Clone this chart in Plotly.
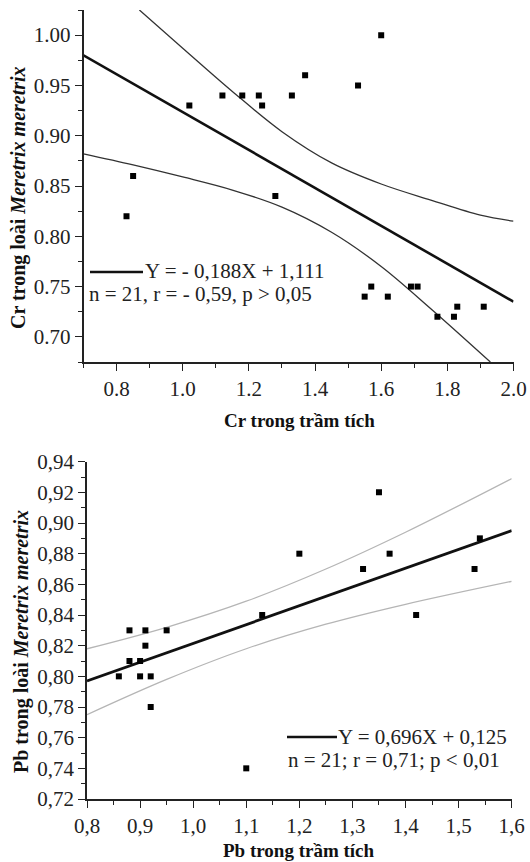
import plotly.graph_objects as go

# ---------------- data: top chart (Cr) ----------------
cr_sed = [0.83, 0.85, 1.02, 1.12, 1.18, 1.23, 1.24, 1.28, 1.33, 1.37, 1.53, 1.60,
          1.55, 1.57, 1.62, 1.69, 1.71, 1.77, 1.82, 1.83, 1.91]
cr_mer = [0.82, 0.86, 0.93, 0.94, 0.94, 0.94, 0.93, 0.84, 0.94, 0.96, 0.95, 1.00,
          0.74, 0.75, 0.74, 0.75, 0.75, 0.72, 0.72, 0.73, 0.73]
cr_fit_x = [0.70, 2.00]
cr_fit_y = [0.980, 0.735]
cr_up_x = [0.869, 1.00, 1.15, 1.30, 1.45, 1.60, 1.75, 1.90, 2.00]
cr_up_y = [1.025, 0.987, 0.944, 0.904, 0.873, 0.852, 0.836, 0.821, 0.815]
cr_lo_x = [0.70, 0.85, 1.00, 1.15, 1.30, 1.45, 1.60, 1.75, 1.93]
cr_lo_y = [0.882, 0.871, 0.859, 0.846, 0.829, 0.804, 0.770, 0.728, 0.675]
cr_xticks = [0.8, 1.0, 1.2, 1.4, 1.6, 1.8, 2.0]
cr_xticklabels = ["0.8", "1.0", "1.2", "1.4", "1.6", "1.8", "2.0"]
cr_xminor = [0.7, 0.9, 1.1, 1.3, 1.5, 1.7, 1.9]
cr_yticks = [0.70, 0.75, 0.80, 0.85, 0.90, 0.95, 1.00]
cr_yticklabels = ["0.70", "0.75", "0.80", "0.85", "0.90", "0.95", "1.00"]
cr_yminor = [0.675, 0.725, 0.775, 0.825, 0.875, 0.925, 0.975, 1.025]

# ---------------- data: bottom chart (Pb) ----------------
pb_sed = [0.86, 0.88, 0.88, 0.90, 0.90, 0.91, 0.91, 0.92, 0.92, 0.95,
          1.10, 1.13, 1.20, 1.32, 1.35, 1.37, 1.42, 1.53, 1.54]
pb_mer = [0.80, 0.81, 0.83, 0.81, 0.80, 0.83, 0.82, 0.80, 0.78, 0.83,
          0.74, 0.84, 0.88, 0.87, 0.92, 0.88, 0.84, 0.87, 0.89]
pb_fit_x = [0.80, 1.60]
pb_fit_y = [0.797, 0.895]
pb_up_x = [0.80, 0.95, 1.10, 1.25, 1.40, 1.60]
pb_up_y = [0.818, 0.832, 0.849, 0.870, 0.894, 0.929]
pb_lo_x = [0.80, 0.95, 1.10, 1.25, 1.40, 1.60]
pb_lo_y = [0.775, 0.798, 0.818, 0.834, 0.847, 0.862]
pb_xticks = [0.8, 0.9, 1.0, 1.1, 1.2, 1.3, 1.4, 1.5, 1.6]
pb_xticklabels = ["0,8", "0,9", "1,0", "1,1", "1,2", "1,3", "1,4", "1,5", "1,6"]
pb_xminor = [0.85, 0.95, 1.05, 1.15, 1.25, 1.35, 1.45, 1.55]
pb_yticks = [0.72, 0.74, 0.76, 0.78, 0.80, 0.82, 0.84, 0.86, 0.88, 0.90, 0.92, 0.94]
pb_yticklabels = ["0,72", "0,74", "0,76", "0,78", "0,80", "0,82", "0,84", "0,86",
                  "0,88", "0,90", "0,92", "0,94"]
pb_yminor = [0.73, 0.75, 0.77, 0.79, 0.81, 0.83, 0.85, 0.87, 0.89, 0.91, 0.93]

# ---------------- layout helpers ----------------
W, H = 530, 862
FONT = "Liberation Serif"


def px(x):
    return x / W


def py(y):
    return 1 - y / H


fig = go.Figure()

# top chart traces
fig.add_trace(go.Scatter(x=cr_up_x, y=cr_up_y, mode="lines", line=dict(color="#333", width=1.3, shape="spline"),
                         xaxis="x", yaxis="y", showlegend=False))
fig.add_trace(go.Scatter(x=cr_lo_x, y=cr_lo_y, mode="lines", line=dict(color="#333", width=1.3, shape="spline"),
                         xaxis="x", yaxis="y", showlegend=False))
fig.add_trace(go.Scatter(x=cr_fit_x, y=cr_fit_y, mode="lines", line=dict(color="#111", width=2.6),
                         xaxis="x", yaxis="y", showlegend=False))
fig.add_trace(go.Scatter(x=cr_sed, y=cr_mer, mode="markers",
                         marker=dict(symbol="square", size=6, color="#000"),
                         xaxis="x", yaxis="y", showlegend=False))

# bottom chart traces
fig.add_trace(go.Scatter(x=pb_up_x, y=pb_up_y, mode="lines", line=dict(color="#b5b5b5", width=1.3, shape="spline"),
                         xaxis="x2", yaxis="y2", showlegend=False))
fig.add_trace(go.Scatter(x=pb_lo_x, y=pb_lo_y, mode="lines", line=dict(color="#b5b5b5", width=1.3, shape="spline"),
                         xaxis="x2", yaxis="y2", showlegend=False))
fig.add_trace(go.Scatter(x=pb_fit_x, y=pb_fit_y, mode="lines", line=dict(color="#111", width=2.8),
                         xaxis="x2", yaxis="y2", showlegend=False))
fig.add_trace(go.Scatter(x=pb_sed, y=pb_mer, mode="markers",
                         marker=dict(symbol="square", size=6, color="#000"),
                         xaxis="x2", yaxis="y2", showlegend=False))

tickfont = dict(family=FONT, size=21, color="#222")


def axis(domain, rng, tickvals, ticktext, minor, anchor):
    return dict(domain=domain, range=rng, anchor=anchor, tickmode="array",
                tickvals=tickvals, ticktext=ticktext, ticks="outside", ticklen=7,
                tickwidth=1.3, tickcolor="#222", showline=True, linecolor="#222",
                linewidth=1.5, showgrid=False, zeroline=False, mirror=False,
                automargin=False, tickfont=tickfont,
                minor=dict(tickmode="array", tickvals=minor, ticks="outside",
                           ticklen=4, tickwidth=1.2, tickcolor="#222", showgrid=False))


fig.update_layout(
    width=W, height=H,
    margin=dict(l=0, r=0, t=0, b=0, autoexpand=False),
    paper_bgcolor="white", plot_bgcolor="white",
    xaxis=axis([px(83.5), px(513.5)], [0.70, 2.0], cr_xticks, cr_xticklabels, cr_xminor, "y"),
    yaxis=axis([py(362), py(10)], [0.675, 1.025], cr_yticks, cr_yticklabels, cr_yminor, "x"),
    xaxis2=axis([px(87), px(511.7)], [0.80, 1.60], pb_xticks, pb_xticklabels, pb_xminor, "y2"),
    yaxis2=axis([py(799), py(461.7)], [0.72, 0.94], pb_yticks, pb_yticklabels, pb_yminor, "x2"),
)

ann_font = dict(family=FONT, size=21, color="#222")
title_font_x = dict(family=FONT, size=19, color="#111")
title_font_y = dict(family=FONT, size=20, color="#111")

annotations = [
    # top chart
    dict(x=px(143), y=py(271), text="Y = - 0,188X + 1,111", xanchor="left", yanchor="middle",
         font=ann_font),
    dict(x=px(87), y=py(294), text="n = 21, r = - 0,59, p > 0,05", xanchor="left", yanchor="middle",
         font=ann_font),
    dict(x=px(299), y=py(420), text="<b>Cr trong trầm tích</b>", xanchor="center", yanchor="middle",
         font=title_font_x),
    dict(x=px(19), y=py(198), text="<b>Cr trong loài <i>Meretrix meretrix</i></b>", textangle=-90,
         xanchor="center", yanchor="middle", font=title_font_y),
    # bottom chart
    dict(x=px(336), y=py(737), text="Y = 0,696X + 0,125", xanchor="left", yanchor="middle",
         font=ann_font),
    dict(x=px(286), y=py(760), text="n = 21; r = 0,71; p < 0,01", xanchor="left", yanchor="middle",
         font=ann_font),
    dict(x=px(299), y=py(850), text="<b>Pb trong trầm tích</b>", xanchor="center", yanchor="middle",
         font=title_font_x),
    dict(x=px(21), y=py(642), text="<b>Pb trong loài <i>Meretrix meretrix</i></b>", textangle=-90,
         xanchor="center", yanchor="middle", font=title_font_y),
]
for a in annotations:
    a.update(xref="paper", yref="paper", showarrow=False)
fig.update_layout(annotations=annotations)

fig.update_layout(shapes=[
    dict(type="line", xref="paper", yref="paper", x0=px(90), x1=px(143), y0=py(272), y1=py(272),
         line=dict(color="#111", width=2.6)),
    dict(type="line", xref="paper", yref="paper", x0=px(287), x1=px(337), y0=py(737), y1=py(737),
         line=dict(color="#111", width=2.6)),
])

fig.write_html("out.html", config={"displayModeBar": False},
               post_script="document.body.style.margin='0px';document.body.style.overflow='hidden';")
